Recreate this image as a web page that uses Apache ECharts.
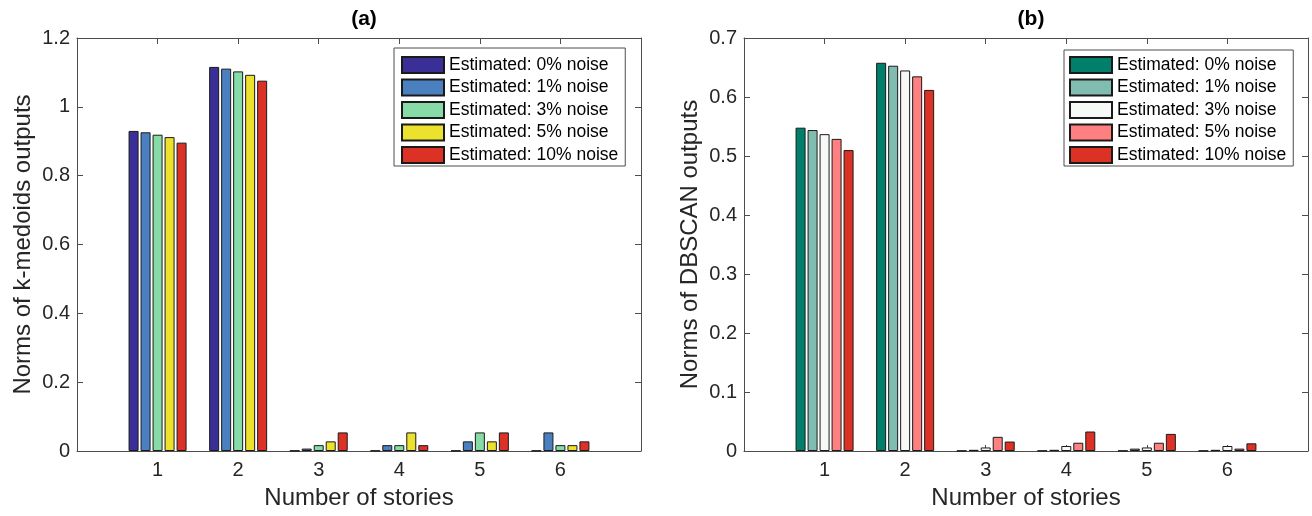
<!DOCTYPE html>
<html>
<head>
<meta charset="utf-8">
<script src="https://cdn.jsdelivr.net/npm/echarts@6/dist/echarts.min.js"></script>
<style>html,body{margin:0;padding:0;background:#fff}#c{width:1312px;height:516px}</style>
</head>
<body>
<div id="c"></div>
<script>
// ---- data ----
const stories = [1, 2, 3, 4, 5, 6];
const seriesNames = ['Estimated: 0% noise', 'Estimated: 1% noise', 'Estimated: 3% noise', 'Estimated: 5% noise', 'Estimated: 10% noise'];
// (a) k-medoids
const kmed0  = [0.930, 1.116, 0.001, 0.001, 0.001, 0.001];
const kmed1  = [0.926, 1.111, 0.007, 0.017, 0.028, 0.054];
const kmed3  = [0.919, 1.103, 0.017, 0.017, 0.054, 0.017];
const kmed5  = [0.912, 1.093, 0.028, 0.054, 0.028, 0.017];
const kmed10 = [0.896, 1.076, 0.054, 0.017, 0.054, 0.028];
// (b) DBSCAN
const db0  = [0.548, 0.658, 0.0005, 0.0005, 0.0005, 0.0005];
const db1  = [0.544, 0.653, 0.002, 0.002, 0.004, 0.002];
const db3  = [0.537, 0.645, 0.006, 0.0085, 0.006, 0.0085];
const db5  = [0.529, 0.635, 0.024, 0.014, 0.014, 0.004];
const db10 = [0.510, 0.612, 0.016, 0.033, 0.029, 0.013];
const yTicksA = [0, 0.2, 0.4, 0.6, 0.8, 1, 1.2];
const yTicksB = [0, 0.1, 0.2, 0.3, 0.4, 0.5, 0.6, 0.7];

const colorsA = ['#3a2f96', '#4a80c0', '#87dba6', '#ece22d', '#dc3226'];
const colorsB = ['#00806a', '#80bdb0', '#f7f9f7', '#fe8080', '#dc3226'];

const FONT = 'Liberation Sans, Arial, Helvetica, sans-serif';
const TXT = '#262626';
const AX = '#4d4d4d';

const chart = echarts.init(document.getElementById('c'));

function grids() {
  return [
    {left: 77, top: 38, width: 564, height: 413},
    {left: 744, top: 38, width: 564, height: 413}
  ];
}
const lineCfg = {show: true, onZero: false, lineStyle: {color: AX, width: 1}};
const tickCfg = {show: true, inside: true, length: 6, lineStyle: {color: AX}};
function xAxes() {
  const out = [];
  [0, 1].forEach(g => {
    out.push({
      type: 'value', gridIndex: g, min: 0, max: 7, interval: 1, position: 'bottom',
      name: 'Number of stories', nameLocation: 'middle', nameGap: 35,
      nameTextStyle: {fontFamily: FONT, fontSize: 24, color: TXT},
      axisLine: lineCfg, axisTick: tickCfg,
      axisLabel: {fontFamily: FONT, fontSize: 20, color: TXT, margin: 9,
        formatter: v => (stories.indexOf(v) >= 0 ? String(v) : '')},
      splitLine: {show: false}
    });
    out.push({
      type: 'value', gridIndex: g, min: 0, max: 7, interval: 1, position: 'top',
      axisLine: lineCfg, axisTick: tickCfg,
      axisLabel: {show: false}, splitLine: {show: false}
    });
  });
  return out;
}
function yAxes() {
  const cfg = [
    {max: 1.2, interval: 0.2, name: 'Norms of k-medoids outputs', ticks: yTicksA},
    {max: 0.7, interval: 0.1, name: 'Norms of DBSCAN outputs', ticks: yTicksB}
  ];
  const out = [];
  cfg.forEach((c, g) => {
    out.push({
      type: 'value', gridIndex: g, min: 0, max: c.max, interval: c.interval, position: 'left',
      name: c.name, nameLocation: 'middle', nameGap: 42,
      nameTextStyle: {fontFamily: FONT, fontSize: 24, color: TXT},
      axisLine: lineCfg, axisTick: tickCfg,
      axisLabel: {fontFamily: FONT, fontSize: 20, color: TXT, margin: 7,
        formatter: v => {
          const t = c.ticks.find(x => Math.abs(x - v) < 1e-9);
          return t === undefined ? '' : String(t);
        }},
      splitLine: {show: false}
    });
    out.push({
      type: 'value', gridIndex: g, min: 0, max: c.max, interval: c.interval, position: 'right',
      axisLine: lineCfg, axisTick: tickCfg,
      axisLabel: {show: false}, splitLine: {show: false}
    });
  });
  return out;
}
function makeSeries(arrs, colors, g) {
  return arrs.map((vals, i) => ({
    type: 'bar',
    name: seriesNames[i] + (g === 1 ? ' ' : ''),
    xAxisIndex: g * 2, yAxisIndex: g * 2,
    data: stories.map((s, k) => [s, vals[k]]),
    barWidth: 10, barGap: '20%',
    itemStyle: {color: colors[i], borderColor: '#1a1a1a', borderWidth: 1},
    emphasis: {disabled: true},
    animation: false
  }));
}
const seriesA = makeSeries([kmed0, kmed1, kmed3, kmed5, kmed10], colorsA, 0);
const seriesB = makeSeries([db0, db1, db3, db5, db10], colorsB, 1);

const legendBase = {
  orient: 'vertical', backgroundColor: '#fff', borderColor: '#4d4d4d', borderWidth: 1,
  itemWidth: 42, itemHeight: 16, itemGap: 4.5, icon: 'rect',
  textStyle: {fontFamily: FONT, fontSize: 17.5, lineHeight: 17, color: '#000'},
  selectedMode: false
};

chart.setOption({
  animation: false,
  title: [
    {text: '(a)', left: 359, top: 4, textAlign: 'center',
      textStyle: {fontFamily: FONT, fontSize: 21, fontWeight: 'bold', color: '#000'}},
    {text: '(b)', left: 1026, top: 4, textAlign: 'center',
      textStyle: {fontFamily: FONT, fontSize: 21, fontWeight: 'bold', color: '#000'}}
  ],
  grid: grids(),
  xAxis: xAxes(),
  yAxis: yAxes(),
  legend: [
    Object.assign({}, legendBase, {left: 394, top: 48, padding: [8, 7, 2, 7],
      data: seriesA.map(s => s.name)}),
    Object.assign({}, legendBase, {left: 1064, top: 50, padding: [6, 7, 2, 5],
      data: seriesB.map(s => s.name),
      formatter: n => n.trim()})
  ],
  series: seriesA.concat(seriesB)
});
</script>
</body>
</html>
